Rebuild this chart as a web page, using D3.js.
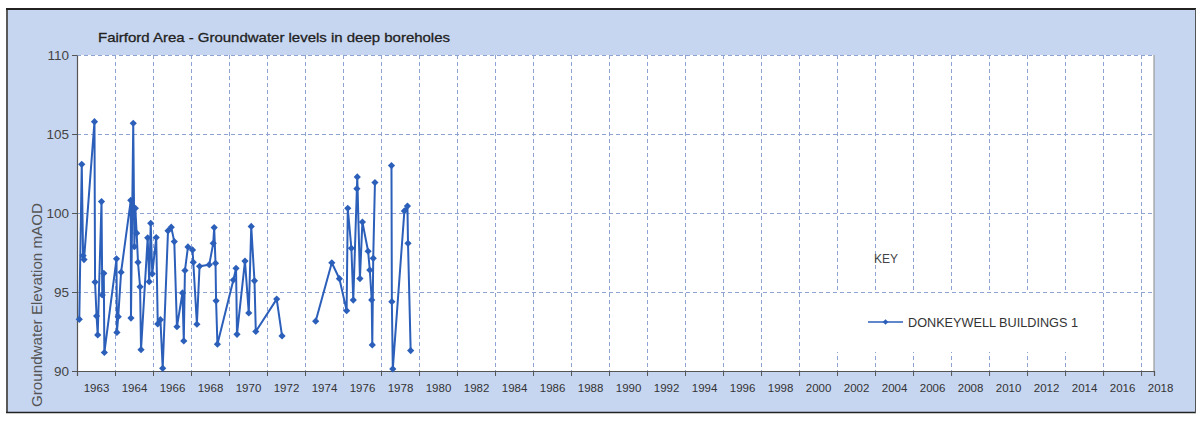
<!DOCTYPE html>
<html><head><meta charset="utf-8">
<script src="https://cdn.jsdelivr.net/npm/d3@7"></script>
<style>
html,body{margin:0;padding:0;background:#fff;}
svg{display:block;font-family:"Liberation Sans",Arial,sans-serif;}
</style>
</head><body><svg id="chart" width="1202" height="421"></svg>
<script>
// ---------- data ----------
const chartTitle = "Fairford Area - Groundwater levels in deep boreholes";
const yAxisTitle = "Groundwater Elevation mAOD";
const keyTitle = "KEY";
const seriesName = "DONKEYWELL BUILDINGS 1";

// decimal-year dates of the readings (null level = break in the line)
const dates = [
  1962.12,1962.25,1962.32,1962.37,1962.92,1962.95,1963.03,1963.09,1963.29,1963.33,
  1963.41,1963.44,1964.08,1964.10,1964.17,1964.32,1964.83,1964.84,1964.96,1965.02,
  1965.07,1965.14,1965.21,1965.32,1965.37,1965.72,1965.80,1965.88,1965.96,1966.17,
  1966.25,1966.39,1966.51,1966.79,1966.96,1967.12,1967.26,1967.55,1967.62,1967.68,
  1967.84,1968.08,1968.12,1968.31,1968.45,1968.96,1969.17,1969.22,1969.29,1969.32,
  1969.39,1970.23,1970.37,1970.42,1970.84,1971.04,1971.17,1971.34,1971.41,1972.51,
  1972.79,1973.60,
  1974.56,1975.41,1975.81,1976.19,1976.25,1976.44,1976.54,1976.73,1976.75,1976.89,
  1977.02,1977.32,1977.41,1977.51,1977.54,1977.59,1977.68,1978.10,
  1978.55,1978.57,1978.62,1979.23,1979.39,1979.42,1979.56
];
const levels = [
  93.27,103.08,97.30,97.05,105.78,95.63,93.48,92.28,100.72,94.81,
  96.18,91.17,97.10,92.44,93.44,96.25,100.80,93.35,105.68,97.87,
  100.30,98.72,96.88,95.33,91.35,98.43,95.65,99.35,96.15,98.45,
  92.98,93.25,90.17,98.87,99.10,98.19,92.80,94.94,91.90,96.36,
  97.85,97.66,96.88,92.96,96.63,96.73,98.08,99.08,96.82,94.44,
  91.70,95.76,96.50,92.32,96.96,93.67,99.15,95.71,92.50,94.55,
  92.22,null,
  93.15,96.85,95.84,93.82,100.30,97.77,94.49,101.54,102.28,95.85,
  99.43,97.58,96.39,94.50,91.65,97.13,101.93,null,
  103.00,94.39,90.13,100.13,100.44,98.08,91.29
];

const xTickYears  = [1962,1964,1966,1968,1970,1972,1974,1976,1978,1980,1982,1984,1986,1988,1990,
                     1992,1994,1996,1998,2000,2002,2004,2006,2008,2010,2012,2014,2016,2018];
const xTickLabels = ["1963","1964","1966","1968","1970","1972","1974","1976","1978","1980","1982","1984","1986","1988","1990",
                     "1992","1994","1996","1998","2000","2002","2004","2006","2008","2010","2012","2014","2016","2018"];
const xDomain = [1962, 2018.68];
const yTicks = [90, 95, 100, 105, 110];
const yDomain = [90, 110];

// ---------- layout ----------
const plot = {left: 77, right: 1154, top: 55, bottom: 371};
const bg = "#c7d6f0";
const lineColor = "#2b5fba";
const gridColor = "#8ea3d2";
const textColor = "#333";

const svg = d3.select("#chart");

const x = d3.scaleLinear().domain(xDomain).range([plot.left, plot.right]);
const y = d3.scaleLinear().domain(yDomain).range([plot.bottom, plot.top]);

// outer blue panel
svg.append("rect").attr("x", 8).attr("y", 10).attr("width", 1187).attr("height", 402)
  .attr("fill", bg);
// frame lines
const frame = svg.append("g").attr("stroke", "#222").attr("fill", "none");
frame.append("line").attr("x1", 6).attr("x2", 1196).attr("y1", 9).attr("y2", 9).attr("stroke-width", 2);
frame.append("line").attr("x1", 7).attr("x2", 7).attr("y1", 9).attr("y2", 413).attr("stroke-width", 1.5);
frame.append("line").attr("x1", 6).attr("x2", 1196).attr("y1", 412.5).attr("y2", 412.5).attr("stroke-width", 1.5);
frame.append("line").attr("x1", 1195.5).attr("x2", 1195.5).attr("y1", 9).attr("y2", 413).attr("stroke-width", 1).attr("stroke","#555");

// plot area
svg.append("rect").attr("x", plot.left).attr("y", plot.top)
  .attr("width", plot.right - plot.left).attr("height", plot.bottom - plot.top)
  .attr("fill", "#fff");
svg.append("line").attr("x1", plot.right).attr("x2", plot.right)
  .attr("y1", plot.top).attr("y2", plot.bottom).attr("stroke", "#9a9a9a").attr("stroke-width", 1.2);

// grid
const grid = svg.append("g").attr("stroke", gridColor).attr("stroke-width", 1)
  .attr("stroke-dasharray", "4,3").attr("fill", "none");
grid.selectAll(".vg").data(xTickYears.filter(d => x(d) > plot.left + 1 && x(d) < plot.right))
  .join("line").attr("class", "vg")
  .attr("x1", d => Math.round(x(d)) + 0.5).attr("x2", d => Math.round(x(d)) + 0.5)
  .attr("y1", plot.top).attr("y2", plot.bottom);
grid.selectAll(".hg").data(yTicks.filter(d => d > yDomain[0]))
  .join("line").attr("class", "hg")
  .attr("x1", plot.left).attr("x2", plot.right)
  .attr("y1", d => Math.round(y(d)) + 0.5).attr("y2", d => Math.round(y(d)) + 0.5);

// legend box (white, covers grid)
svg.append("rect").attr("x", 835).attr("y", 293).attr("width", 266).attr("height", 59).attr("fill", "#fff");

// axes
const xAxis = d3.axisBottom(x).tickValues(xTickYears)
  .tickFormat((d, i) => xTickLabels[i]).tickSizeOuter(0).tickSize(5);
const gx = svg.append("g").attr("transform", `translate(0,${plot.bottom})`).call(xAxis);
gx.select(".domain").attr("stroke", "#555").attr("stroke-width", 1.2);
gx.selectAll(".tick line").attr("stroke", "#555");
const halfStep = x(xTickYears[1]) - x(xTickYears[0]);
gx.selectAll(".tick text")
  .attr("x", halfStep / 2).attr("y", 13)
  .attr("fill", textColor).attr("font-size", 11.5)
  .attr("font-family", "'Liberation Sans', Arial, sans-serif");

const yAxis = d3.axisLeft(y).tickValues(yTicks).tickSize(5).tickSizeOuter(0);
const gy = svg.append("g").attr("transform", `translate(${plot.left},0)`).call(yAxis);
gy.select(".domain").attr("stroke", "#555").attr("stroke-width", 1.2);
gy.selectAll(".tick line").attr("stroke", "#555");
gy.selectAll(".tick text").attr("fill", "#444").attr("font-size", 13.5).attr("x", -8)
  .attr("font-family", "'Liberation Sans', Arial, sans-serif");

// title
svg.append("text").attr("x", 98).attr("y", 42).text(chartTitle)
  .attr("font-size", 13.5).attr("fill", "#222")
  .attr("stroke", "#222").attr("stroke-width", 0.3)
  .attr("textLength", 352).attr("lengthAdjust", "spacingAndGlyphs");

// y axis title
svg.append("text").attr("transform", "translate(42,305) rotate(-90)")
  .attr("text-anchor", "middle").text(yAxisTitle)
  .attr("font-size", 14).attr("fill", "#555")
  .attr("textLength", 204).attr("lengthAdjust", "spacingAndGlyphs");

// series
const pts = dates.map((d, i) => ({date: d, level: levels[i]}));
const line = d3.line().defined(d => d.level !== null)
  .x(d => x(d.date)).y(d => y(d.level));
svg.append("path").datum(pts).attr("d", line)
  .attr("fill", "none").attr("stroke", lineColor).attr("stroke-width", 2)
  .attr("stroke-linejoin", "round");
const diamond = d3.symbol(d3.symbolSquare, 26);
svg.append("g").selectAll("path").data(pts.filter(d => d.level !== null))
  .join("path").attr("d", diamond)
  .attr("transform", d => `translate(${x(d.date)},${y(d.level)}) rotate(45)`)
  .attr("fill", lineColor);

// key
svg.append("text").attr("x", 874).attr("y", 263).text(keyTitle)
  .attr("font-size", 12).attr("fill", "#444");
const lg = svg.append("g").attr("transform", "translate(868,322)");
lg.append("line").attr("x1", 0).attr("x2", 35).attr("y1", 0).attr("y2", 0)
  .attr("stroke", lineColor).attr("stroke-width", 1.5);
lg.append("path").attr("d", d3.symbol(d3.symbolSquare, 16)).attr("transform", "translate(17.5,0) rotate(45)")
  .attr("fill", lineColor);
lg.append("text").attr("x", 40).attr("y", 4.5).text(seriesName)
  .attr("font-size", 12).attr("fill", "#333")
  .attr("textLength", 170).attr("lengthAdjust", "spacingAndGlyphs");
</script>
</body></html>
